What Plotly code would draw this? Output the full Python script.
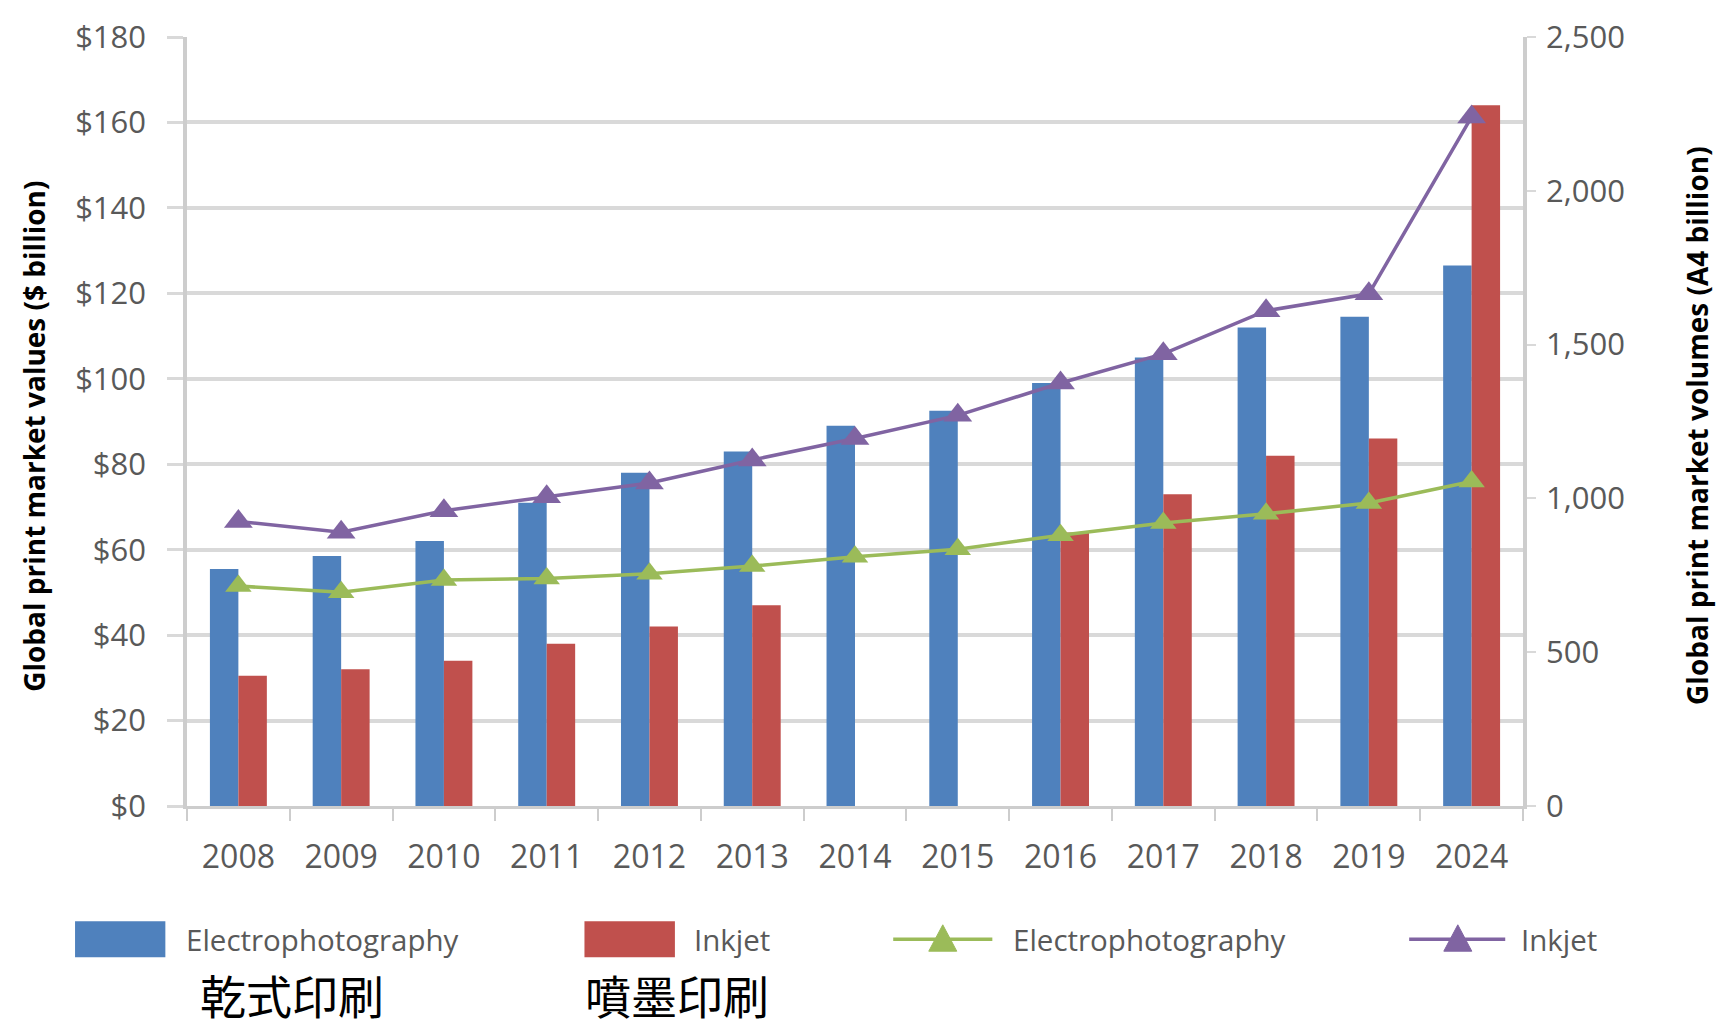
import plotly.graph_objects as go

# ---------------- data ----------------
years = ["2008", "2009", "2010", "2011", "2012", "2013", "2014", "2015",
         "2016", "2017", "2018", "2019", "2024"]
value_electro = [55.5, 58.5, 62, 71, 78, 83, 89, 92.5, 99, 105, 112, 114.5, 126.5]
value_inkjet = [30.5, 32, 34, 38, 42, 47, None, None, 64, 73, 82, 86, 164]
volume_electro = [715, 695, 735, 740, 755, 780, 810, 835, 880, 920, 950, 985, 1055]
volume_inkjet = [925, 890, 960, 1005, 1050, 1125, 1195, 1270, 1375, 1470, 1610, 1665, 2240]

left_ticks = [0, 20, 40, 60, 80, 100, 120, 140, 160, 180]
right_ticks = [0, 500, 1000, 1500, 2000, 2500]

series_names = ["Electrophotography", "Inkjet", "Electrophotography", "Inkjet"]
left_title = "Global print market values ($ billion)"
right_title = "Global print market volumes (A4 billion)"
chinese_labels = ["乾式印刷", "噴墨印刷"]

# ---------------- style ----------------
BLUE = "#4F81BD"
RED = "#C0504D"
GREEN = "#9BBB59"
PURPLE = "#8064A2"
GRID = "#D9D9D9"
AXIS = "#CDCDCD"
TXT = "#595959"
FONT = "Open Sans"

W, H = 1729, 1028
ML, MR, MT, MB = 179, 214, 29, 230
PW, PH = W - ML - MR, H - MT - MB

fig = go.Figure()

fig.add_trace(go.Bar(x=years, y=value_electro, name=series_names[0],
                     marker=dict(color=BLUE, line=dict(width=0)), showlegend=False))
fig.add_trace(go.Bar(x=years, y=value_inkjet, name=series_names[1],
                     marker=dict(color=RED, line=dict(width=0)), showlegend=False))
fig.add_trace(go.Scatter(x=years, y=volume_electro, name=series_names[2], yaxis="y2",
                         mode="lines+markers",
                         line=dict(color=GREEN, width=3.5),
                         marker=dict(symbol="triangle-up", size=23, color=GREEN),
                         showlegend=False))
fig.add_trace(go.Scatter(x=years, y=volume_inkjet, name=series_names[3], yaxis="y2",
                         mode="lines+markers",
                         line=dict(color=PURPLE, width=3.5),
                         marker=dict(symbol="triangle-up", size=25, color=PURPLE),
                         showlegend=False))

# ---------------- custom legend ----------------
shapes = []
annotations = []
legend_yc_px = -133.2      # px below plot bottom (centre of legend row)
legend_h_px = 36
legend_yc = legend_yc_px / PH
legend_y0 = (legend_yc_px - legend_h_px / 2) / PH
legend_y1 = (legend_yc_px + legend_h_px / 2) / PH

def px_x(p):
    return p / PW

def px_y(p):
    return p / PH

# bar swatches
for (x0, x1, col, tx, name) in [(-0.0838, -0.0162, BLUE, -0.0019, series_names[0]),
                                (0.2975, 0.3652, RED, 0.3778, series_names[1])]:
    shapes.append(dict(type="rect", xref="paper", yref="paper", x0=x0, x1=x1,
                       y0=legend_y0, y1=legend_y1, fillcolor=col, line=dict(width=0)))
    annotations.append(dict(xref="paper", yref="paper", x=tx, y=legend_yc, text=name,
                            showarrow=False, xanchor="left", yanchor="middle",
                            font=dict(family=FONT, size=29.5, color=TXT)))

# line swatches
for (x0, x1, xm, col, tx, name) in [(0.5286, 0.6028, 0.5657, GREEN, 0.6171, series_names[2]),
                                    (0.9148, 0.9867, 0.9512, PURPLE, 0.9968, series_names[3])]:
    shapes.append(dict(type="line", xref="paper", yref="paper", x0=x0, x1=x1,
                       y0=legend_yc, y1=legend_yc, line=dict(color=col, width=3.5)))
    hw, hh = px_x(14), px_y(12)
    path = (f"M {xm - hw},{legend_yc - hh} L {xm + hw},{legend_yc - hh} "
            f"L {xm},{legend_yc + hh * 1.2} Z")
    shapes.append(dict(type="path", xref="paper", yref="paper", path=path,
                       fillcolor=col, line=dict(color=col, width=1)))
    annotations.append(dict(xref="paper", yref="paper", x=tx, y=legend_yc, text=name,
                            showarrow=False, xanchor="left", yanchor="middle",
                            font=dict(family=FONT, size=29.5, color=TXT)))

# axis titles
annotations.append(dict(xref="paper", yref="paper", x=-0.1141, y=0.4808,
                        text=f"<b>{left_title}</b>", textangle=-90, showarrow=False,
                        xanchor="center", yanchor="middle",
                        font=dict(family=FONT, size=28, color="black")))
annotations.append(dict(xref="paper", yref="paper", x=1.1306, y=0.4949,
                        text=f"<b>{right_title}</b>", textangle=-90, showarrow=False,
                        xanchor="center", yanchor="middle",
                        font=dict(family=FONT, size=28, color="black")))

# chinese captions
for (xc, txt) in [(0.0787, chinese_labels[0]), (0.3664, chinese_labels[1])]:
    annotations.append(dict(xref="paper", yref="paper", x=xc, y=-187.5 / PH, text=txt,
                            showarrow=False, xanchor="center", yanchor="middle",
                            font=dict(family="Noto Sans CJK TC", size=46, color="black")))

fig.update_layout(
    width=W, height=H,
    margin=dict(l=ML, r=MR, t=MT, b=MB, autoexpand=False),
    paper_bgcolor="white", plot_bgcolor="white",
    barmode="group", bargap=0.446, bargroupgap=0,
    font=dict(family=FONT, color=TXT),
    xaxis=dict(type="category", categoryorder="array", categoryarray=years,
               range=[-0.5, len(years) - 0.5], automargin=False,
               showline=True, linecolor=AXIS, linewidth=3,
               ticks="outside", tickson="boundaries", ticklen=12, tickcolor=AXIS, tickwidth=2,
               tickfont=dict(family=FONT, size=32, color=TXT),
               ticklabelstandoff=21, showgrid=False),
    yaxis=dict(range=[0, 180], tickmode="array", tickvals=left_ticks,
               ticktext=[f"${v}" for v in left_ticks], automargin=False,
               showgrid=True, gridcolor=GRID, gridwidth=3.5,
               showline=True, linecolor=AXIS, linewidth=3.5,
               ticks="outside", ticklen=16, tickcolor=GRID, tickwidth=3,
               tickfont=dict(family=FONT, size=31, color=TXT),
               ticklabelstandoff=15, ticklabeloverflow="allow", zeroline=False),
    yaxis2=dict(range=[0, 2500], overlaying="y", side="right",
                tickmode="array", tickvals=right_ticks,
                ticktext=[f"{v:,}" for v in right_ticks], automargin=False,
                showgrid=False, showline=True, linecolor=AXIS, linewidth=3.5,
                ticks="outside", ticklen=9, tickcolor=GRID, tickwidth=2,
                tickfont=dict(family=FONT, size=31, color=TXT),
                ticklabelstandoff=4, ticklabeloverflow="allow", zeroline=False),
    shapes=shapes,
    annotations=annotations,
)

fig.write_html("out.html")
